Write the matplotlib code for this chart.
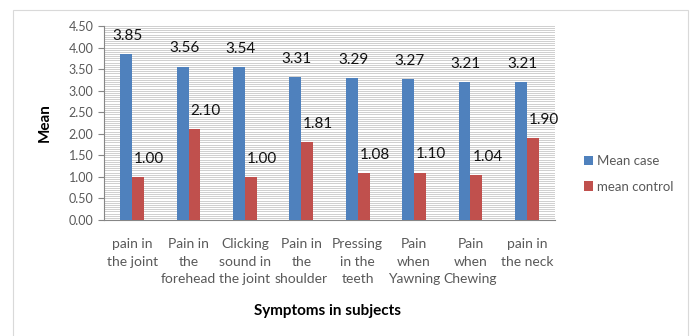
import matplotlib

matplotlib.use("Agg")
import matplotlib.pyplot as plt
import numpy as np
from matplotlib.patches import Rectangle
from matplotlib.ticker import MultipleLocator, FormatStrFormatter

categories = [
    "pain in\nthe joint",
    "Pain in\nthe\nforehead",
    "Clicking\nsound in\nthe joint",
    "Pain in\nthe\nshoulder",
    "Pressing\nin the\nteeth",
    "Pain\nwhen\nYawning",
    "Pain\nwhen\nChewing",
    "pain in\nthe neck",
]
mean_case = [3.85, 3.56, 3.54, 3.31, 3.29, 3.27, 3.21, 3.21]
mean_control = [1.00, 2.10, 1.00, 1.81, 1.08, 1.10, 1.04, 1.90]

BLUE = "#4F81BD"
RED = "#C0504D"
FONT = "Lato"

fig = plt.figure(figsize=(6.92, 3.36), dpi=100)
fig.patches.append(Rectangle((13 / 692, -0.01), 675 / 692, 1 - 10 / 336 + 0.01,
                             transform=fig.transFigure, fill=False,
                             edgecolor="#D9D9D9", lw=0.8))
ax = fig.add_axes([104 / 692, 1 - 220 / 336, 451 / 692, 194 / 336])

x = np.arange(len(categories))
w = 0.21
ax.bar(x - w / 2, mean_case, w, color=BLUE, label="Mean case", zorder=3)
ax.bar(x + w / 2, mean_control, w, color=RED, label="mean control", zorder=3)

for xi, v in zip(x, mean_case):
    ax.annotate(f"{v:.2f}", (xi - w / 2, v), xytext=(1, 8), textcoords="offset points",
                ha="center", va="bottom", fontsize=11, color="#111111", family=FONT)
for xi, v in zip(x, mean_control):
    ax.annotate(f"{v:.2f}", (xi + w / 2, v), xytext=(8, 8), textcoords="offset points",
                ha="center", va="bottom", fontsize=11, color="#111111", family=FONT)

ax.set_xlim(-0.5, len(categories) - 0.5)
ax.set_ylim(0, 4.5)
ax.yaxis.set_major_locator(MultipleLocator(0.5))
ax.yaxis.set_minor_locator(MultipleLocator(0.05))
ax.yaxis.set_major_formatter(FormatStrFormatter("%.2f"))
ax.grid(axis="y", which="both", color="#C8C8C8", lw=0.6, zorder=0)
ax.set_axisbelow(True)
ax.tick_params(axis="y", which="major", length=4, color="#868686", labelsize=9,
               labelcolor="#595959")
ax.tick_params(axis="y", which="minor", length=0)
ax.tick_params(axis="x", length=0, labelsize=10, labelcolor="#595959", pad=13)
ax.set_xticks(x)
ax.set_xticklabels(categories, family=FONT, linespacing=1.55)
for lab in ax.get_yticklabels():
    lab.set_family(FONT)
for side in ["top", "right"]:
    ax.spines[side].set_visible(False)
for side in ["left", "bottom"]:
    ax.spines[side].set_color("#868686")
    ax.spines[side].set_linewidth(0.8)

ax.set_ylabel("Mean", fontsize=11, fontweight="bold", family=FONT, labelpad=12)
fig.text(328 / 692, 1 - 311 / 336, "Symptoms in subjects", ha="center", va="center",
         fontsize=11, fontweight="bold", family=FONT)

ax.legend(loc="center left", bbox_to_anchor=(572 / 692, 1 - 174 / 336),
          bbox_transform=fig.transFigure, frameon=False, handlelength=0.7,
          handleheight=0.7, handletextpad=0.3, labelspacing=1.0,
          prop={"family": FONT, "size": 9.5}, labelcolor="#595959")

fig.savefig("out.png", dpi=100)
